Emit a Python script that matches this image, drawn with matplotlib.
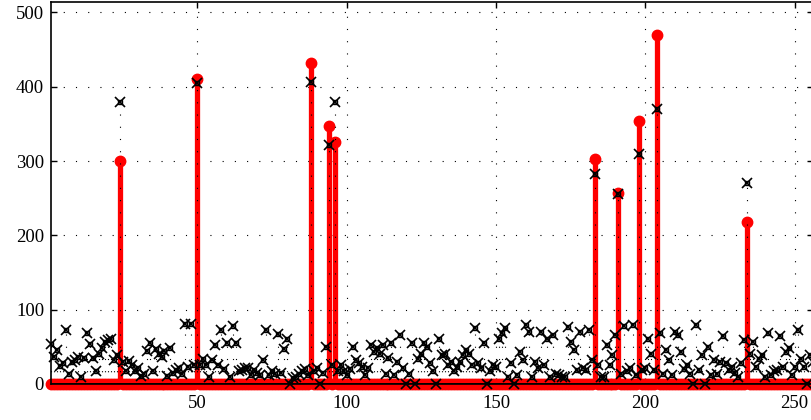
import numpy as np
import matplotlib.pyplot as plt

plt.rcParams['font.family'] = ['Liberation Serif', 'DejaVu Serif']

# sample index
n = np.arange(1, 257)

# black series (x markers, dotted stems), one value per index
black_val = [
    54, 36, 46, 24, 28, 73, 14, 30, 32, 37,
    10, 35, 69, 54, 35, 18, 41, 48, 56, 59,
    60, 32, 39, 380, 30, 17, 31, 26, 17, 22,
    11, 13, 45, 55, 18, 47, 41, 37, 45, 11,
    48, 15, 19, 21, 13, 81, 23, 81, 26, 405,
    26, 34, 26, 9, 32, 52, 26, 72, 20, 55,
    9, 78, 55, 17, 19, 22, 21, 12, 19, 15,
    12, 32, 72, 12, 18, 14, 67, 15, 47, 61,
    0, 8, 10, 14, 17, 20, 12, 407, 17, 22,
    0, 15, 50, 322, 26, 380, 18, 26, 17, 12,
    20, 50, 32, 28, 23, 12, 21, 52, 43, 48,
    41, 52, 14, 35, 55, 12, 30, 66, 21, 0,
    14, 55, 0, 34, 41, 55, 50, 28, 17, 0,
    60, 39, 41, 26, 30, 17, 23, 30, 39, 46,
    41, 26, 76, 28, 22, 55, 0, 17, 26, 23,
    61, 68, 76, 10, 28, 0, 12, 43, 32, 79,
    70, 10, 30, 22, 70, 26, 61, 9, 66, 14,
    12, 10, 10, 77, 57, 46, 19, 70, 21, 19,
    73, 32, 282, 26, 9, 9, 52, 26, 39, 66,
    256, 14, 78, 17, 21, 79, 12, 310, 19, 21,
    61, 41, 19, 370, 68, 14, 46, 32, 12, 70,
    66, 43, 20, 26, 14, 0, 80, 19, 39, 0,
    50, 12, 32, 14, 30, 64, 28, 19, 23, 15,
    10, 28, 59, 270, 41, 57, 23, 34, 39, 10,
    68, 12, 17, 19, 64, 23, 43, 48, 12, 23,
    73, 34, 23, 0, 39, 30,
]

# red series: non-zero only at these indices
red_idx = [24, 50, 88, 94, 96, 183, 191, 198, 204, 234]
red_val = [300, 410, 432, 347, 325, 303, 257, 354, 470, 218]

red_full = np.zeros(len(n))
red_full[np.array(red_idx) - 1] = red_val

fig = plt.figure(figsize=(8.11, 4.20), dpi=100)
ax = fig.add_axes([51 / 811, 36 / 420, 761.6 / 811, 382 / 420])

# red stems
ml, sl, bl = ax.stem(n, red_full, linefmt='r-', markerfmt='ro', basefmt='r-')
plt.setp(sl, linewidth=3.8, zorder=2)
plt.setp(ml, markersize=7.5, zorder=2, clip_on=False)
plt.setp(bl, linewidth=3.8, zorder=2)

# black stems
ml2, sl2, bl2 = ax.stem(n, black_val, linefmt='k:', markerfmt='kx', basefmt='k-')
plt.setp(sl2, linewidth=0.8, linestyle=(0, (1, 10)), zorder=3)
plt.setp(ml2, markersize=7.5, markeredgewidth=1.2, zorder=4, clip_on=False)
plt.setp(bl2, linewidth=1.3, zorder=4)
ax.plot(n, black_val, 's', markersize=3.2, markerfacecolor='none',
        markeredgecolor='k', markeredgewidth=1.0, zorder=4)

ax.set_xlim(1, 256)
ax.set_ylim(0, 514)
ax.set_xticks([50, 100, 150, 200, 250])
ax.set_yticks([0, 100, 200, 300, 400, 500])
ax.grid(True, color='k', linestyle=(0, (1, 10)), linewidth=0.8)
ax.set_axisbelow(True)
ax.tick_params(direction='in', top=True, right=True, length=4, width=1,
               labelsize=13.5)
ax.tick_params(axis='x', pad=8)
ax.tick_params(axis='y', pad=5)
for s in ax.spines.values():
    s.set_linewidth(1.2)

plt.savefig('out.png', dpi=100)
